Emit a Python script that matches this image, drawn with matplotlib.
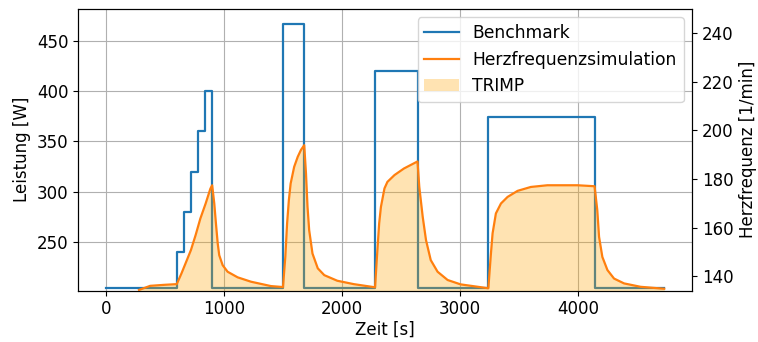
import matplotlib
matplotlib.use("Agg")
import matplotlib.pyplot as plt

# Benchmark power profile (step, post)
bench_t = [0, 600, 660, 720, 780, 840, 900, 1500, 1680, 2280, 2640, 3240, 4140, 4730]
bench_p = [205, 240, 280, 320, 360, 400, 205, 467, 205, 420, 205, 374, 205, 205]

# Simulated heart rate
hr_t = [280, 375, 490, 600, 640, 680, 720, 760, 800, 845, 885, 900,
        918, 932, 947, 960, 989, 1031, 1116, 1229, 1398, 1500,
        1520, 1535, 1550, 1565, 1595, 1625, 1652, 1680,
        1695, 1708, 1722, 1750, 1795, 1850, 1960, 2100, 2280,
        2300, 2315, 2330, 2360, 2385, 2445, 2525, 2640,
        2655, 2684, 2712, 2752, 2810, 2895, 3005, 3240,
        3262, 3276, 3304, 3347, 3403, 3488, 3600, 3740, 3995, 4140,
        4163, 4178, 4206, 4249, 4305, 4390, 4530, 4730]
hr_v = [134.3, 136.0, 136.4, 136.7, 141.1, 145.9, 150.7, 156.9, 163.7, 169.9, 176.0, 177.4,
        169.9, 161.7, 153.5, 148.6, 144.5, 141.8, 139.5, 137.7, 135.9, 135.5,
        148.0, 161.7, 171.3, 178.1, 185.0, 189.1, 191.9, 193.9,
        182.3, 168.5, 158.9, 149.3, 143.2, 140.4, 138.1, 136.7, 135.4,
        150.7, 161.7, 168.5, 176.1, 178.8, 181.6, 184.3, 187.2,
        176.7, 164.4, 154.8, 146.6, 141.8, 138.4, 136.6, 135.0,
        149.3, 157.6, 165.8, 169.9, 172.6, 175.1, 176.7, 177.4, 177.4, 177.0,
        167.2, 156.2, 147.9, 142.5, 139.0, 137.0, 135.6, 134.8]

hr_base = 134.0

plt.rcParams['font.family'] = ['DejaVu Sans']
plt.rcParams['font.size'] = 12

fig = plt.figure(figsize=(7.58, 3.42), dpi=100)
ax = fig.add_axes([0.103, 0.150, 0.810, 0.824])
ax.step(bench_t, bench_p, where='post', color='C0', lw=1.6, label='Benchmark')
ax.set_ylim(202, 481.5)
ax.set_xlim(-236, 4966)
ax.set_yticks([250, 300, 350, 400, 450])
ax.set_xticks([0, 1000, 2000, 3000, 4000])
ax.grid(True, color='#b0b0b0', lw=0.8)
ax.set_axisbelow(True)
ax.set_xlabel('Zeit [s]', labelpad=2)
ax.set_ylabel('Leistung [W]')

ax2 = ax.twinx()
ax2.plot(hr_t, hr_v, color='C1', lw=1.6, label='Herzfrequenzsimulation')
ax2.fill_between(hr_t, hr_v, hr_base, color='orange', alpha=0.3, lw=0, label='TRIMP')
ax2.set_ylim(hr_base, 250)
ax2.set_yticks([140, 160, 180, 200, 220, 240])
ax2.set_ylabel('Herzfrequenz [1/min]')

h1, l1 = ax.get_legend_handles_labels()
h2, l2 = ax2.get_legend_handles_labels()
ax2.legend(h1 + h2, l1 + l2, loc='upper right', fontsize=12.3)

fig.savefig('out.png', dpi=100)
